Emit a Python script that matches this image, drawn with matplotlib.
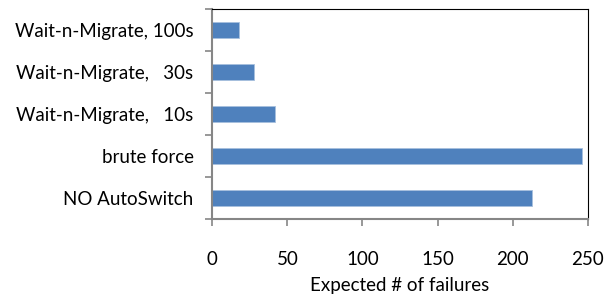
import matplotlib
matplotlib.use("Agg")
import matplotlib.pyplot as plt
import numpy as np

categories = ["NO AutoSwitch", "brute force", "Wait-n-Migrate,   10s",
              "Wait-n-Migrate,   30s", "Wait-n-Migrate, 100s"]
values = [213, 246, 42, 27.5, 18]
xticks = [0, 50, 100, 150, 200, 250]
xlabel = "Expected # of failures"

plt.rcParams['font.family'] = ['Lato', 'DejaVu Sans']
fs = 13.5

fig = plt.figure(figsize=(6.07, 2.97), dpi=100)
ax = fig.add_axes([212.3/607, 1 - 218.7/297, (587.7-212.3)/607, (218.7-9.3)/297])

y = np.arange(len(categories))
ax.barh(y, values, height=0.38, color="#4f81bd", edgecolor="#a7c0de", linewidth=0.6, zorder=2)

ax.set_xlim(0, 250)
ax.set_ylim(-0.5, len(categories) - 0.5)
ax.set_xticks(xticks)
ax.set_xticklabels([str(t) for t in xticks], fontsize=fs)
ax.set_yticks(y)
ax.set_yticklabels(categories, fontsize=fs)
ax.tick_params(axis='y', which='major', length=0, pad=13.5)
ax.set_yticks(np.arange(-0.5, len(categories)), minor=True)
ax.tick_params(axis='y', which='minor', length=5, width=1.2, color="#868686", direction='out')
ax.tick_params(axis='x', which='major', length=5, width=1.2, color="#868686", direction='out', pad=18)
ax.set_xlabel(xlabel, fontsize=fs, labelpad=7)

for s in ['left', 'bottom']:
    ax.spines[s].set_color("#868686")
    ax.spines[s].set_linewidth(1.5)
for s in ['top', 'right']:
    ax.spines[s].set_color("#000000")
    ax.spines[s].set_linewidth(0.8)

fig.savefig("out.png", dpi=100)
